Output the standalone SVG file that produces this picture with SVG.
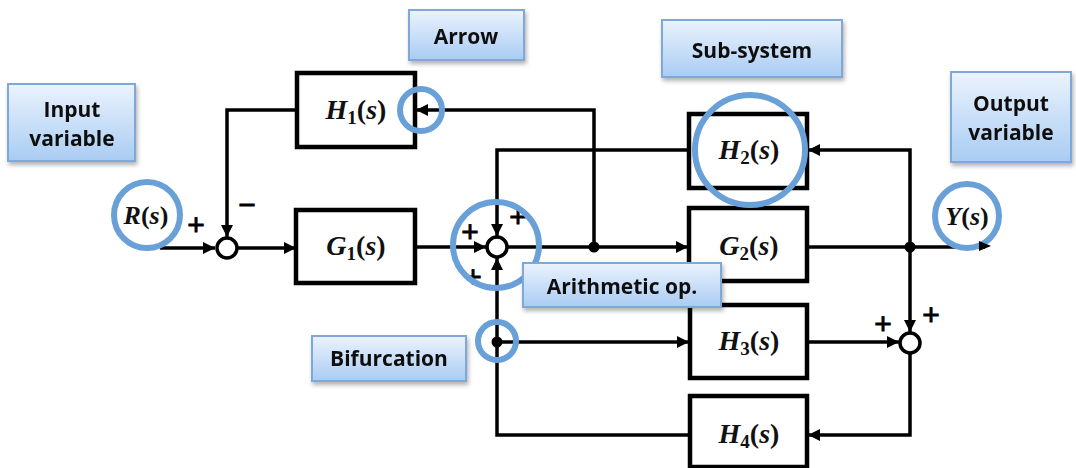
<svg xmlns="http://www.w3.org/2000/svg" width="1076" height="468" viewBox="0 0 1076 468">
<defs>
<linearGradient id="lbl" x1="0" y1="0" x2="0" y2="1">
<stop offset="0" stop-color="#ebf3fd"/>
<stop offset="1" stop-color="#a9ccf3"/>
</linearGradient>
<filter id="sh" x="-10%" y="-10%" width="125%" height="140%">
<feDropShadow dx="1.5" dy="3" stdDeviation="2" flood-color="#000" flood-opacity="0.3"/>
</filter>
<marker id="ah" viewBox="0 0 12 12" refX="12" refY="6" markerWidth="12" markerHeight="12" markerUnits="userSpaceOnUse" orient="auto">
<path d="M0,0 L12,6 L0,12 z" fill="#000"/>
</marker>
</defs>
<style>
.blk{fill:#fff;stroke:#000;stroke-width:4.5}
.ln{fill:none;stroke:#000;stroke-width:3.5}
.arr{marker-end:url(#ah)}
.sum{fill:#fff;stroke:#000;stroke-width:3.5}
.dot{fill:#000}
.math{font-family:"Liberation Serif",serif;font-size:28px;font-weight:bold;fill:#111}
.mr{font-size:26px}
.it{font-style:italic}
.sub{font-size:19px;font-style:normal}
.sign{font-family:"Liberation Sans",sans-serif;font-size:30px;fill:#000;stroke:#000;stroke-width:0.8;text-anchor:middle}
.lbox{fill:url(#lbl);stroke:#7ea8d7;stroke-width:2}
.ltxt{font-family:"Open Sans",sans-serif;font-size:21px;font-weight:bold;fill:#111;text-anchor:middle}
.ring{fill:none;stroke:#6aa0d8;stroke-width:6}
.ringw{fill:#fff;stroke:#6aa0d8;stroke-width:6}
</style>
<rect width="1076" height="468" fill="#fff"/>

<g id="connectors">
<path class="ln arr" d="M160,248 H215"/>
<path class="ln arr" d="M238,248 H296"/>
<path class="ln arr" d="M415,247 H486"/>
<path class="ln arr" d="M508,247 H688"/>
<path class="ln arr" d="M594,247 V110 H416"/>
<path class="ln arr" d="M297,110 H227 V237"/>
<path class="ln arr" d="M689,150 H497 V236"/>
<path class="ln" d="M807,247 H985"/>
<path class="ln arr" d="M910,247 V150 H808"/>
<path class="ln arr" d="M910,247 V332"/>
<path class="ln arr" d="M807,342 H899"/>
<path class="ln arr" d="M910,354 V435 H808"/>
<path class="ln arr" d="M690,435 H497 V258"/>
<path class="ln arr" d="M497,342 H689"/>
<circle class="dot" cx="594" cy="247" r="5.5"/>
<circle class="dot" cx="910" cy="247" r="5.5"/>
<circle class="dot" cx="497" cy="342" r="5.5"/>
</g>

<g id="J1"><circle class="sum" cx="227" cy="248" r="10"/>
<text class="sign" x="196" y="235">+</text>
<text class="sign" x="247" y="215">−</text></g>
<g id="J2"><circle class="sum" cx="497" cy="247" r="10"/>
<text class="sign" x="470" y="242">+</text>
<text class="sign" x="518" y="227">+</text>
<text class="sign" x="473" y="287">+</text></g>
<g id="J3"><circle class="sum" cx="910" cy="343" r="10"/>
<text class="sign" x="883" y="334">+</text>
<text class="sign" x="931" y="325">+</text></g>

<g id="H1"><rect class="blk" x="297" y="73" width="118" height="74"/>
<text class="math" x="356" y="119" text-anchor="middle"><tspan class="it">H</tspan><tspan class="sub" dy="5">1</tspan><tspan dy="-5">(</tspan><tspan class="it">s</tspan>)</text></g>
<g id="G1"><rect class="blk" x="296" y="210" width="119" height="73"/>
<text class="math" x="356" y="255" text-anchor="middle"><tspan class="it">G</tspan><tspan class="sub" dy="5">1</tspan><tspan dy="-5">(</tspan><tspan class="it">s</tspan>)</text></g>
<g id="H2"><rect class="blk" x="689" y="114" width="118" height="74"/>
<text class="math" x="749" y="159" text-anchor="middle"><tspan class="it">H</tspan><tspan class="sub" dy="5">2</tspan><tspan dy="-5">(</tspan><tspan class="it">s</tspan>)</text></g>
<g id="G2"><rect class="blk" x="689" y="208" width="118" height="73"/>
<text class="math" x="749" y="255" text-anchor="middle"><tspan class="it">G</tspan><tspan class="sub" dy="5">2</tspan><tspan dy="-5">(</tspan><tspan class="it">s</tspan>)</text></g>
<g id="H3"><rect class="blk" x="690" y="305" width="117" height="73"/>
<text class="math" x="749" y="350" text-anchor="middle"><tspan class="it">H</tspan><tspan class="sub" dy="5">3</tspan><tspan dy="-5">(</tspan><tspan class="it">s</tspan>)</text></g>
<g id="H4"><rect class="blk" x="690" y="396" width="117" height="71"/>
<text class="math" x="749" y="443" text-anchor="middle"><tspan class="it">H</tspan><tspan class="sub" dy="5">4</tspan><tspan dy="-5">(</tspan><tspan class="it">s</tspan>)</text></g>

<g id="R"><circle class="ringw" cx="147" cy="215" r="33"/>
<text class="math mr" x="146" y="224" text-anchor="middle"><tspan class="it">R</tspan>(<tspan class="it">s</tspan>)</text></g>
<g id="Y"><circle class="ringw" cx="967" cy="216" r="32"/>
<text class="math mr" x="967" y="225" text-anchor="middle"><tspan class="it">Y</tspan>(<tspan class="it">s</tspan>)</text>
<path d="M979,241 L991,246 L979,251 z" fill="#000"/></g>

<g id="rings">
<circle class="ring" cx="421" cy="110" r="21"/>
<circle class="ring" cx="750" cy="150" r="55"/>
<circle class="ring" cx="496" cy="245" r="43"/>
<circle class="ring" cx="497" cy="341" r="19"/>
</g>

<g id="lbl-input" filter="url(#sh)"><rect class="lbox" x="8" y="84" width="127" height="77"/>
<text class="ltxt" x="72" y="117">Input</text><text class="ltxt" x="72" y="146">variable</text></g>
<g id="lbl-arrow" filter="url(#sh)"><rect class="lbox" x="409" y="10" width="115" height="50"/>
<text class="ltxt" x="466" y="44">Arrow</text></g>
<g id="lbl-sub" filter="url(#sh)"><rect class="lbox" x="662" y="20" width="180" height="57"/>
<text class="ltxt" x="752" y="58">Sub-system</text></g>
<g id="lbl-output" filter="url(#sh)"><rect class="lbox" x="951" y="72" width="120" height="90"/>
<text class="ltxt" x="1011" y="111">Output</text><text class="ltxt" x="1011" y="140">variable</text></g>
<g id="lbl-arith" filter="url(#sh)"><rect class="lbox" x="523" y="263" width="198" height="44"/>
<text class="ltxt" x="622" y="294">Arithmetic op.</text></g>
<g id="lbl-bif" filter="url(#sh)"><rect class="lbox" x="312" y="336" width="154" height="45"/>
<text class="ltxt" x="389" y="366">Bifurcation</text></g>
</svg>
